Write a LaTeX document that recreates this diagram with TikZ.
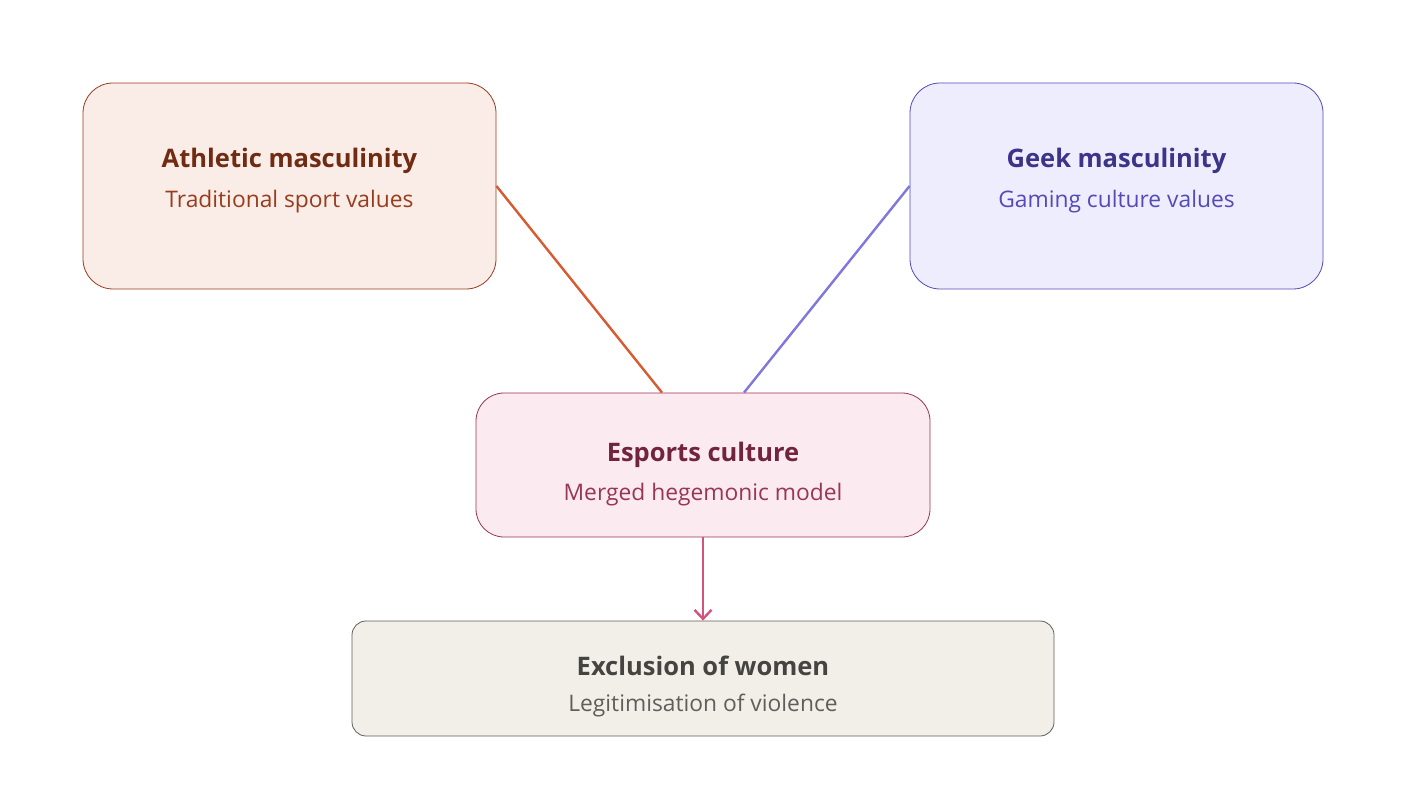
\documentclass[tikz,border=0pt]{standalone}
\usepackage{fontspec}
\setmainfont{Open Sans}
\usetikzlibrary{arrows.meta,calc}
\definecolor{athF}{HTML}{FAECE7}\definecolor{athD}{HTML}{993C1D}\definecolor{athT}{HTML}{712B13}
\definecolor{geeF}{HTML}{EEEDFE}\definecolor{geeD}{HTML}{534AB7}\definecolor{geeT}{HTML}{3C3489}
\definecolor{espF}{HTML}{FBEAF0}\definecolor{espD}{HTML}{993556}\definecolor{espT}{HTML}{72243E}
\definecolor{excF}{HTML}{F1EFE8}\definecolor{excD}{HTML}{5F5E5A}\definecolor{excT}{HTML}{444441}
\definecolor{lnO}{HTML}{D85A30}\definecolor{lnP}{HTML}{7F77DD}\definecolor{lnK}{HTML}{D4537E}
\tikzset{
  box/.style={draw, line width=0.8pt, align=center, inner sep=0pt},
  ttl/.style={font=\fontsize{25.5}{30}\selectfont\bfseries},
  sub/.style={font=\fontsize{22.8}{27}\selectfont},
  conn/.style={line width=2.4pt},
}
\begin{document}
\begin{tikzpicture}[x=1pt,y=-1pt]
\useasboundingbox[fill=white] (0,0) rectangle (1406,786);
\node[box, fill=athF, draw=athD, rounded corners=30pt, minimum width=413pt, minimum height=206pt] (ath) at (289.5,186) {};
\node[ttl, text=athT] (athT) at (289.5,161) {Athletic masculinity};
\node[sub, text=athD] (athS) at (289.5,202) {Traditional sport values};
\node[box, fill=geeF, draw=geeD, rounded corners=30pt, minimum width=413pt, minimum height=206pt] (gee) at (1116.5,186) {};
\node[ttl, text=geeT] (geeT) at (1116.5,161) {Geek masculinity};
\node[sub, text=geeD] (geeS) at (1116.5,202) {Gaming culture values};
\node[box, fill=espF, draw=espD, rounded corners=28pt, minimum width=454pt, minimum height=144pt] (esp) at (703,465) {};
\node[ttl, text=espT] (espT) at (703,455) {Esports culture};
\node[sub, text=espD] (espS) at (703,495) {Merged hegemonic model};
\node[box, fill=excF, draw=excD, rounded corners=14pt, minimum width=702pt, minimum height=115pt] (exc) at (703,678.5) {};
\node[ttl, text=excT] (excT) at (703,666) {Exclusion of women};
\node[sub, text=excD] (excS) at (703,706) {Legitimisation of violence};
\draw[conn, draw=lnO] (ath.east) -- ($(esp.north)+(-41,0)$);
\draw[conn, draw=lnP] (gee.west) -- ($(esp.north)+(41,0)$);
\draw[conn, draw=lnK, -{Straight Barb[length=9pt,width=17pt,line width=2.4pt]}] (esp.south) -- (exc.north);
\end{tikzpicture}
\end{document}
